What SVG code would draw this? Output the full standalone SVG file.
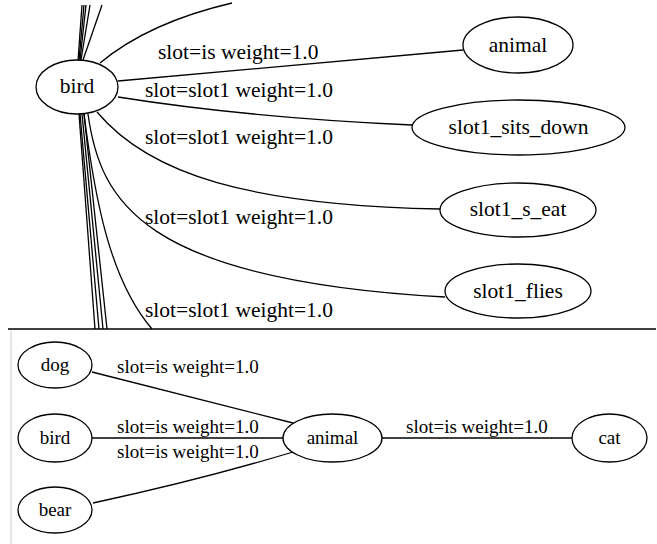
<svg xmlns="http://www.w3.org/2000/svg" width="657" height="544" viewBox="0 0 657 544">
<style>
.n{fill:#fff;stroke:#000;stroke-width:1.3}
.e{fill:none;stroke:#000;stroke-width:1.3}
text{font-family:"Liberation Serif","Times New Roman","DejaVu Serif",serif;fill:#000}
.big{font-size:21.5px}
.sm{font-size:19px}
.c{text-anchor:middle}
</style>
<rect width="657" height="544" fill="#fff"/>
<g id="top">
<g id="connectors-top">
<path class="e" d="M82,5 L78,61"/>
<path class="e" d="M84,5 L79,60"/>
<path class="e" d="M86,5 L80,60"/>
<path class="e" d="M90,5 L81,60"/>
<path class="e" d="M102,5 L83,60"/>
<path class="e" d="M100,63 C130,38 172,17 232,3"/>
<path class="e" d="M118,81 L463,50"/>
<path class="e" d="M118,97 C200,110 300,120 412,125"/>
<path class="e" d="M97,112 C150,175 250,205 440,209"/>
<path class="e" d="M88,114 C100,200 140,280 445,297"/>
<path class="e" d="M84,114 C95,200 110,280 152,329"/>
<path class="e" d="M79,114 L95,329"/>
<path class="e" d="M80,114 L99,329"/>
<path class="e" d="M82,114 L103,329"/>
<path class="e" d="M84,114 L107,329"/>
</g>
<g id="labels-top" class="big" font-family="'Liberation Serif', serif">
<text x="158" y="59">slot=is weight=1.0</text>
<text x="145" y="97">slot=slot1 weight=1.0</text>
<text x="145" y="144">slot=slot1 weight=1.0</text>
<text x="145" y="224">slot=slot1 weight=1.0</text>
<text x="145" y="317">slot=slot1 weight=1.0</text>
</g>
<g id="top-bird"><ellipse class="n" cx="77" cy="87" rx="41" ry="27"/><text class="big c" x="77" y="93">bird</text></g>
<g id="top-animal"><ellipse class="n" cx="518" cy="45" rx="55" ry="28"/><text class="big c" x="518" y="52">animal</text></g>
<g id="top-slot1_sits_down"><ellipse class="n" cx="518.5" cy="127.5" rx="106.5" ry="27.5"/><text class="big c" x="518.5" y="134">slot1_sits_down</text></g>
<g id="top-slot1_s_eat"><ellipse class="n" cx="518" cy="210" rx="78" ry="27"/><text class="big c" x="518" y="216">slot1_s_eat</text></g>
<g id="top-slot1_flies"><ellipse class="n" cx="518" cy="291" rx="73" ry="27"/><text class="big c" x="518" y="298">slot1_flies</text></g>
</g>
<line x1="8" y1="329" x2="656" y2="329" stroke="#000" stroke-width="1.6"/>
<line x1="11" y1="331" x2="11" y2="544" stroke="#cfcfcf" stroke-width="1"/>
<g id="bottom">
<g id="connectors-bottom">
<path class="e" d="M92,372 L293,423"/>
<path class="e" d="M92,438 L283,438"/>
<path class="e" d="M93,503 Q200,480 293,452"/>
<path class="e" d="M382,438 L572,438"/>
</g>
<g id="labels-bottom" class="sm">
<text x="117" y="373">slot=is weight=1.0</text>
<text x="117" y="433">slot=is weight=1.0</text>
<text x="117" y="458">slot=is weight=1.0</text>
<text x="406" y="433">slot=is weight=1.0</text>
</g>
<g id="dog"><ellipse class="n" cx="55" cy="365" rx="37" ry="23"/><text class="sm c" x="55" y="371">dog</text></g>
<g id="bird"><ellipse class="n" cx="55" cy="438" rx="37" ry="24"/><text class="sm c" x="55" y="444">bird</text></g>
<g id="bear"><ellipse class="n" cx="55" cy="510" rx="37" ry="23"/><text class="sm c" x="55" y="516">bear</text></g>
<g id="animal"><ellipse class="n" cx="332.5" cy="438" rx="49.5" ry="24"/><text class="sm c" x="332.5" y="444">animal</text></g>
<g id="cat"><ellipse class="n" cx="609.5" cy="438" rx="37.5" ry="24"/><text class="sm c" x="609.5" y="444">cat</text></g>
</g>
</svg>
